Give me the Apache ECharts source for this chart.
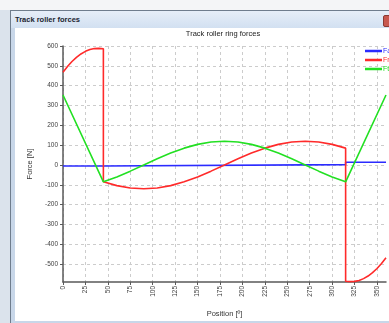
<!DOCTYPE html>
<html>
<head>
<meta charset="utf-8">
<script src="https://cdn.jsdelivr.net/npm/echarts@6/dist/echarts.min.js"></script>
<style>
  html, body { margin: 0; padding: 0; background: #f4f5f7; overflow: hidden; }
  #wrap { position: relative; width: 389px; height: 323px; }
  #leftStrip { position: absolute; left: 0; top: 10px; width: 10px; height: 313px; background: #dbe3ec; }
  #frame { position: absolute; left: 10px; top: 10px; width: 390px; height: 320px; box-sizing: border-box;
           border: 1px solid #6f7d8d; background: #c8d7e9; }
  #titlebar { position: absolute; left: 11px; top: 11px; width: 378px; height: 17px;
              background: linear-gradient(#e6eef8, #d2e0f1); }
  #wtitle { position: absolute; left: 15px; top: 15px; font: bold 7.5px "Liberation Sans", Arial, sans-serif; color: #1b2430; white-space: nowrap; }
  #client { position: absolute; left: 15px; top: 28px; width: 374px; height: 293px; background: #ffffff; }
  #closebtn { position: absolute; left: 383px; top: 15px; width: 10px; height: 10px; background: #c8584e; border: 1px solid #8a3a34; border-radius: 2px; }
  #chart { position: absolute; left: 0; top: 0; width: 389px; height: 323px; }
</style>
</head>
<body>
<div id="wrap">
  <div id="leftStrip"></div>
  <div id="frame"></div>
  <div id="titlebar"></div>
  <div id="wtitle">Track roller forces</div>
  <div id="closebtn"></div>
  <div id="client"></div>
  <div id="chart"></div>
</div>
<script>
// ---- data ----
const chartTitle = 'Track roller ring forces';
const seriesNames = ['Fa', 'Fr', 'Ft'];

const posFa = [0, 45, 45, 315, 315, 360];
const valFa = [-5, -5, 2, 2, 14, 14];

const posFr = [0, 5, 10, 15, 20, 25, 30, 35, 40, 45, 45, 60, 75, 90, 105, 120, 135, 150, 165, 180,
               195, 210, 225, 240, 255, 270, 285, 300, 315, 315, 320, 325, 330, 335, 340, 345, 350, 355, 360];
const valFr = [468, 497, 522, 543, 560, 573, 582, 587, 588, 586, -85, -104, -116, -120, -116, -104, -85, -60, -31, 0,
               31, 60, 85, 104, 116, 120, 116, 104, 85, -586, -588, -587, -582, -573, -560, -543, -522, -497, -468];

const posFt = [0, 45, 60, 75, 90, 105, 120, 135, 150, 165, 180, 195, 210, 225, 240, 255, 270, 285, 300, 315, 360];
const valFt = [353, -85, -60, -31, 0, 31, 60, 85, 104, 116, 120, 116, 104, 85, 60, 31, 0, -31, -60, -85, 353];

const xTicks = [0, 25, 50, 75, 100, 125, 150, 175, 200, 225, 250, 275, 300, 325, 350];
const yTicks = [-500, -400, -300, -200, -100, 0, 100, 200, 300, 400, 500, 600];

const colors = ['#2b2bff', '#ff2a2a', '#22e022'];

function pairs(xs, ys) { return xs.map((x, i) => [x, ys[i]]); }

const FONT = '"Liberation Sans", Arial, sans-serif';
const chart = echarts.init(document.getElementById('chart'), null, { renderer: 'canvas' });

chart.setOption({
  backgroundColor: 'transparent',
  animation: false,
  color: colors,
  graphic: [{
    type: 'text', x: 223, y: 34,
    style: { text: chartTitle, align: 'center', verticalAlign: 'middle', font: '7.5px ' + FONT, fill: '#222' }
  }],
  legend: {
    orient: 'vertical', left: 360, top: 42,
    itemWidth: 17, itemHeight: 2.5, itemGap: 1,
    icon: 'rect',
    textStyle: { fontFamily: FONT, fontSize: 7, lineHeight: 8, padding: [0, 0, 0, -4] },
    data: seriesNames.map((n, i) => ({ name: n, textStyle: { color: colors[i] } }))
  },
  grid: { left: 63, right: 3, top: 46, bottom: 41, containLabel: false },
  xAxis: {
    type: 'value', min: 0, max: 360, interval: 25,
    name: 'Position [º]', nameLocation: 'middle', nameGap: 28,
    nameTextStyle: { fontFamily: FONT, fontSize: 7.5, color: '#333' },
    axisLine: { onZero: false, lineStyle: { color: '#5a5a5a', width: 1.5 } },
    axisTick: { show: true, length: 3, customValues: xTicks, lineStyle: { color: '#5a5a5a' } },
    axisLabel: { customValues: xTicks, rotate: 90, margin: 4, fontFamily: FONT, fontSize: 6.5, color: '#404040' },
    splitLine: { show: true, lineStyle: { color: '#cccccc', type: [3, 3], width: 1 } }
  },
  yAxis: {
    type: 'value', min: -590, max: 600,
    name: 'Force [N]', nameLocation: 'middle', nameGap: 29,
    nameTextStyle: { fontFamily: FONT, fontSize: 7.5, color: '#333' },
    axisLine: { show: true, lineStyle: { color: '#5a5a5a', width: 1.5 } },
    axisTick: { show: true, length: 3, customValues: yTicks, lineStyle: { color: '#5a5a5a' } },
    axisLabel: { customValues: yTicks, margin: 5, fontFamily: FONT, fontSize: 6.5, color: '#404040' },
    splitLine: { show: true, lineStyle: { color: '#cccccc', type: [3, 3], width: 1 } }
  },
  series: [
    { name: 'Fa', type: 'line', data: pairs(posFa, valFa), showSymbol: false, lineStyle: { width: 1.6, color: colors[0] }, z: 3 },
    { name: 'Fr', type: 'line', data: pairs(posFr, valFr), showSymbol: false, lineStyle: { width: 1.6, color: colors[1] }, z: 4 },
    { name: 'Ft', type: 'line', data: pairs(posFt, valFt), showSymbol: false, lineStyle: { width: 1.6, color: colors[2] }, z: 5 }
  ]
});
</script>
</body>
</html>
